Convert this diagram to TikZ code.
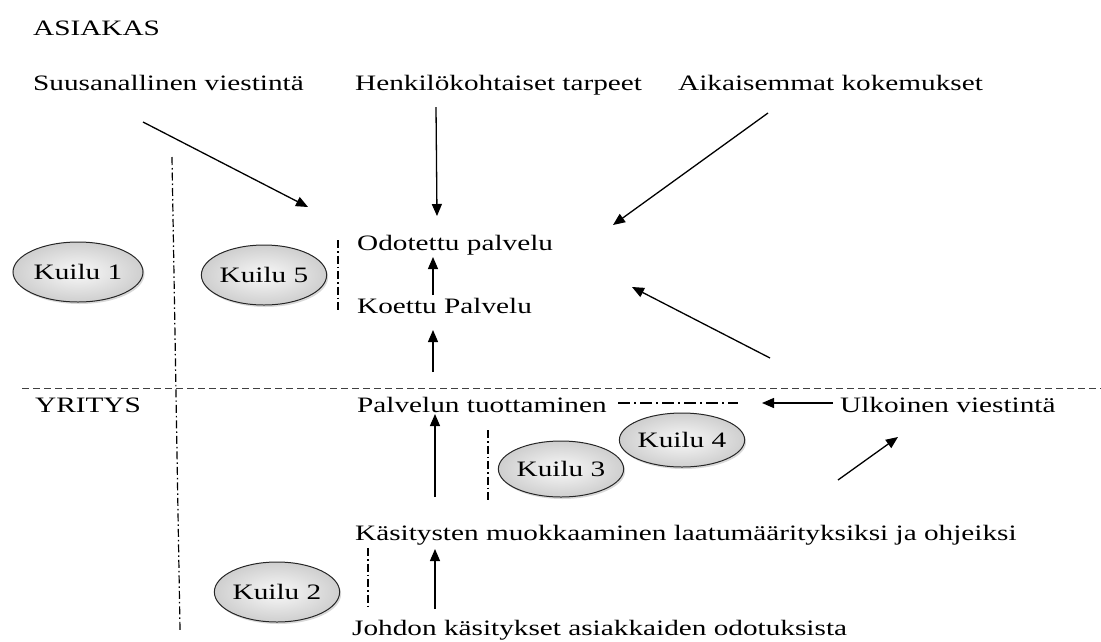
\documentclass[tikz,border=0pt]{standalone}
\usepackage{fontspec}
\setmainfont{Liberation Serif}[FakeStretch=1.33]
\usetikzlibrary{arrows.meta,shapes.geometric,shadows}
\begin{document}
\begin{tikzpicture}[x=1pt,y=-1pt,
  lbl/.style={anchor=base west, inner sep=0pt, font=\fontsize{22}{26}\selectfont},
  gapnode/.style={ellipse, draw=black!85, line width=1pt, inner sep=0pt,
    minimum height=60pt, shading=radial, inner color=gray!5, outer color=gray!38,
    drop shadow={shadow xshift=1.5pt, shadow yshift=-2pt, opacity=0.3},
    font=\fontsize{22}{26}\selectfont},
  arr/.style={-{Triangle[length=12pt,width=10pt]}, line width=1.3pt},
  border/.style={dash pattern=on 7pt off 4pt, line width=1pt, black!75},
  gapline/.style={dash pattern=on 8pt off 3pt on 1.5pt off 3pt, line width=1.2pt},
  gaplineh/.style={dash pattern=on 12pt off 4pt on 2pt off 4pt, line width=1.2pt}
]
\useasboundingbox (0,0) rectangle (1101,641);

% texts
\node[lbl] (asiakas) at (33,35) {ASIAKAS};
\node[lbl] (suu) at (33,90) {Suusanallinen viestintä};
\node[lbl] (henk) at (355,90) {Henkilökohtaiset tarpeet};
\node[lbl] (aik) at (678,90) {Aikaisemmat kokemukset};
\node[lbl] (odo) at (357,250) {Odotettu palvelu};
\node[lbl] (koe) at (357,313) {Koettu Palvelu};
\node[lbl] (yri) at (35,412) {YRITYS};
\node[lbl] (tuo) at (357,412) {Palvelun tuottaminen};
\node[lbl] (ulk) at (840,412) {Ulkoinen viestintä};
\node[lbl] (kas) at (355,540) {Käsitysten muokkaaminen laatumäärityksiksi ja ohjeiksi};
\node[lbl] (joh) at (352,635) {Johdon käsitykset asiakkaiden odotuksista};

% gaps
\node[gapnode, minimum width=130pt] (k1) at (78,272) {Kuilu 1};
\node[gapnode, minimum width=122pt] (k5) at (264,275) {Kuilu 5};
\node[gapnode, minimum width=110pt, minimum height=54pt] (k4) at (682,440) {Kuilu 4};
\node[gapnode, minimum width=114pt, minimum height=56pt] (k3) at (561,469) {Kuilu 3};
\node[gapnode, minimum width=125pt] (k2) at (277,592) {Kuilu 2};

% customer / company border and gap separators
\draw[border] (22,388) -- (1101,388);
\draw[gapline] (172,157) -- (180,630);
\draw[gapline] (338,240) -- (338,312);
\draw[gapline] (488,430) -- (488,500);
\draw[gapline] (368,548) -- (368,607);
\draw[gaplineh] (618,403) -- (738,403);

% arrow ends
\coordinate (suu-a) at (143,122);  \coordinate (suu-b) at (308,207);
\coordinate (henk-a) at (436,107); \coordinate (henk-b) at (437,216);
\coordinate (aik-a) at (768,113);  \coordinate (aik-b) at (613,225);
\coordinate (ulk-a) at (770,358);  \coordinate (ulk-b) at (632,287);
\coordinate (koe-a) at (433,295);  \coordinate (koe-b) at (433,257);
\coordinate (tuo-a) at (433,372);  \coordinate (tuo-b) at (433,330);
\coordinate (kas-a) at (435,497);  \coordinate (kas-b) at (435,414);
\coordinate (uv-a) at (833,403);   \coordinate (uv-b) at (762,403);
\coordinate (uv2-a) at (838,480);  \coordinate (uv2-b) at (898,437);
\coordinate (joh-a) at (435,609);  \coordinate (joh-b) at (435,549);

\draw[arr] (suu-a) -- (suu-b);
\draw[arr] (henk-a) -- (henk-b);
\draw[arr] (aik-a) -- (aik-b);
\draw[arr] (ulk-a) -- (ulk-b);
\draw[arr] (koe-a) -- (koe-b);
\draw[arr] (tuo-a) -- (tuo-b);
\draw[arr] (kas-a) -- (kas-b);
\draw[arr] (uv-a) -- (uv-b);
\draw[arr] (uv2-a) -- (uv2-b);
\draw[arr] (joh-a) -- (joh-b);
\end{tikzpicture}
\end{document}
